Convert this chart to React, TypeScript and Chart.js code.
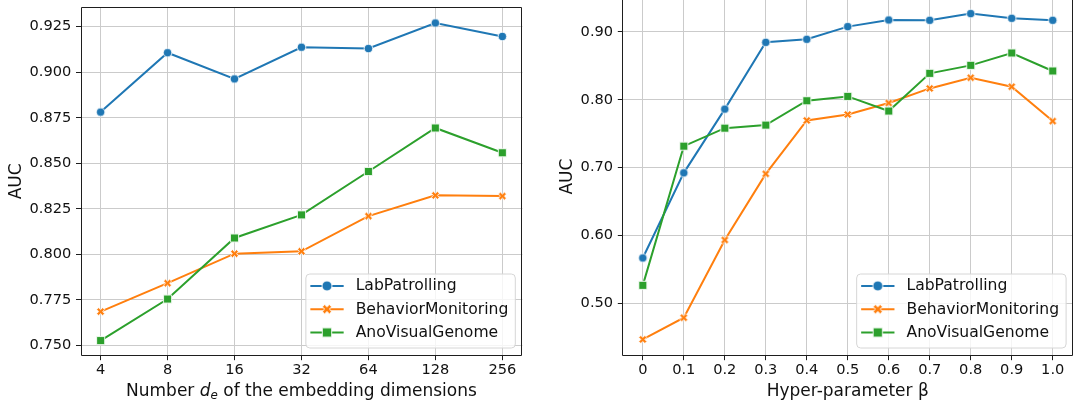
import React, { useEffect, useRef } from "react";
import { Chart, registerables } from "chart.js";

Chart.register(...registerables);

// ---- data: embedding dimension sweep ----
const dimLabels = ["4", "8", "16", "32", "64", "128", "256"];
const dimLab = [0.8781, 0.9107, 0.8963, 0.9137, 0.913, 0.927, 0.9196];
const dimBehavior = [0.7686, 0.7842, 0.8004, 0.8017, 0.821, 0.8324, 0.832];
const dimAno = [0.7527, 0.7755, 0.809, 0.8217, 0.8455, 0.8694, 0.8558];
const dimYTicks = [0.75, 0.775, 0.8, 0.825, 0.85, 0.875, 0.9, 0.925];

// ---- data: beta sweep ----
const betaValues = [0, 0.1, 0.2, 0.3, 0.4, 0.5, 0.6, 0.7, 0.8, 0.9, 1.0];
const betaLabels = ["0", "0.1", "0.2", "0.3", "0.4", "0.5", "0.6", "0.7", "0.8", "0.9", "1.0"];
const betaLab = [0.5665, 0.6921, 0.7862, 0.8847, 0.8892, 0.9079, 0.9177, 0.9172, 0.9271, 0.9202, 0.9172];
const betaBehavior = [0.4463, 0.4783, 0.5931, 0.6906, 0.7695, 0.7783, 0.7951, 0.8167, 0.8325, 0.8192, 0.7685];
const betaAno = [0.5261, 0.7315, 0.7581, 0.7626, 0.7985, 0.8049, 0.7833, 0.8389, 0.8507, 0.869, 0.8424];
const betaYTicks = [0.5, 0.6, 0.7, 0.8, 0.9];

const seriesNames = ["LabPatrolling", "BehaviorMonitoring", "AnoVisualGenome"];
const seriesColors = ["#1f77b4", "#ff7f0e", "#2ca02c"];
const seriesMarkers: Array<"circle" | "x" | "square"> = ["circle", "x", "square"];

const FONT = '"DejaVu Sans", "Noto Sans", sans-serif';
const TEXT = "#111111";
const GRID = "#cbcbcb";
const SPINE = "#1e1e1e";

function makeMarker(kind: "circle" | "x" | "square", color: string, size: number): HTMLCanvasElement {
  const dim = Math.ceil(size) + 4;
  const c = document.createElement("canvas");
  c.width = dim;
  c.height = dim;
  const g = c.getContext("2d")!;
  const cx = dim / 2;
  const cy = dim / 2;
  const h = size / 2;
  g.beginPath();
  if (kind === "circle") {
    g.arc(cx, cy, h, 0, Math.PI * 2);
  } else if (kind === "square") {
    g.rect(cx - h, cy - h, size, size);
  } else {
    const a = h / 3;
    const pts = [
      [-a, -h], [a, -h], [a, -a], [h, -a], [h, a], [a, a],
      [a, h], [-a, h], [-a, a], [-h, a], [-h, -a], [-a, -a],
    ];
    pts.forEach(([x, y], i) => {
      const rx = (x - y) / Math.SQRT2;
      const ry = (x + y) / Math.SQRT2;
      if (i === 0) g.moveTo(cx + rx, cy + ry);
      else g.lineTo(cx + rx, cy + ry);
    });
    g.closePath();
  }
  g.fillStyle = color;
  g.fill();
  g.strokeStyle = "#ffffff";
  g.lineWidth = 0.9;
  g.stroke();
  return c;
}

const markerSize = { circle: 8.6, x: 8.6, square: 8.2 };
const legendMarkerSize = { circle: 10, x: 10, square: 9.4 };

function buildDatasets(xs: number[], series: number[][]) {
  return series.map((vals, i) => ({
    label: seriesNames[i],
    data: vals.map((v, j) => ({ x: xs[j], y: v })),
    borderColor: seriesColors[i],
    backgroundColor: seriesColors[i],
    borderWidth: 2,
    tension: 0,
    pointStyle: makeMarker(seriesMarkers[i], seriesColors[i], markerSize[seriesMarkers[i]]),
    pointRadius: 5,
    order: 2 - i,
  }));
}

function drawSpines(ctx: CanvasRenderingContext2D, a: any) {
  ctx.save();
  ctx.strokeStyle = SPINE;
  ctx.lineWidth = 1;
  const l = Math.round(a.left) + 0.5;
  const r = Math.round(a.right) - 0.5;
  const t = Math.round(a.top) + 0.5;
  const b = Math.round(a.bottom) - 0.5;
  ctx.beginPath();
  ctx.rect(l, t, r - l, b - t);
  ctx.stroke();
  ctx.restore();
}

function drawLegend(ctx: CanvasRenderingContext2D, a: any) {
  ctx.save();
  ctx.font = `15.6px ${FONT}`;
  const maxW = Math.max(...seriesNames.map((n) => ctx.measureText(n).width));
  const w = 50.3 + maxW + 6.5;
  const hgt = 74;
  const right = a.right - 7.6;
  const bottom = a.bottom - 8.2;
  const left = right - w;
  const top = bottom - hgt;
  ctx.beginPath();
  ctx.roundRect(left + 0.5, top + 0.5, w, hgt, 4);
  ctx.fillStyle = "rgba(255,255,255,0.8)";
  ctx.fill();
  ctx.strokeStyle = "#d6d6d6";
  ctx.lineWidth = 1;
  ctx.stroke();
  seriesNames.forEach((name, i) => {
    const y = top + 12.4 + i * 23.3;
    ctx.beginPath();
    ctx.moveTo(left + 5, y);
    ctx.lineTo(left + 38.3, y);
    ctx.strokeStyle = seriesColors[i];
    ctx.lineWidth = 2;
    ctx.stroke();
    const m = makeMarker(seriesMarkers[i], seriesColors[i], legendMarkerSize[seriesMarkers[i]]);
    ctx.drawImage(m, left + 21.6 - m.width / 2, y - m.height / 2);
    ctx.fillStyle = TEXT;
    ctx.textBaseline = "middle";
    ctx.textAlign = "left";
    ctx.fillText(name, left + 50.3, y + 0.5);
  });
  ctx.restore();
}

function drawYTitle(ctx: CanvasRenderingContext2D, a: any, offset: number) {
  ctx.save();
  ctx.font = `17px ${FONT}`;
  ctx.fillStyle = TEXT;
  ctx.translate(a.left - offset, (a.top + a.bottom) / 2);
  ctx.rotate(-Math.PI / 2);
  ctx.textAlign = "center";
  ctx.textBaseline = "alphabetic";
  ctx.fillText("AUC", 0, 0);
  ctx.restore();
}

type Part = { text: string; font: string; dy: number };

function drawXTitle(ctx: CanvasRenderingContext2D, a: any, parts: Part[]) {
  ctx.save();
  ctx.fillStyle = TEXT;
  ctx.textBaseline = "alphabetic";
  ctx.textAlign = "left";
  const widths = parts.map((p) => {
    ctx.font = p.font;
    return ctx.measureText(p.text).width;
  });
  const total = widths.reduce((s, v) => s + v, 0);
  let x = (a.left + a.right) / 2 - total / 2;
  const y = a.bottom + 40;
  parts.forEach((p, i) => {
    ctx.font = p.font;
    ctx.fillText(p.text, x, y + p.dy);
    x += widths[i];
  });
  ctx.restore();
}

function makeScale(
  axis: "x" | "y",
  min: number,
  max: number,
  tickValues: number[],
  tickLabels: string[],
  thickness: number,
  padding: number
) {
  return {
    type: "linear" as const,
    min,
    max,
    afterBuildTicks: (s: any) => {
      s.ticks = tickValues.map((v) => ({ value: v }));
    },
    afterFit: (s: any) => {
      if (axis === "y") {
        s.width = thickness;
        s.paddingTop = 0;
        s.paddingBottom = 0;
      } else {
        s.height = thickness;
        s.paddingLeft = 0;
        s.paddingRight = 0;
      }
    },
    ticks: {
      autoSkip: false,
      maxRotation: 0,
      minRotation: 0,
      padding,
      color: TEXT,
      font: { family: FONT, size: 14.6 },
      callback: (_v: any, i: number) => tickLabels[i],
    },
    grid: {
      color: GRID,
      lineWidth: 1,
      drawTicks: true,
      tickLength: 4.5,
      tickColor: SPINE,
      tickWidth: 1,
    },
    border: { display: false },
  };
}

function makeChart(
  canvas: HTMLCanvasElement,
  datasets: any[],
  scales: any,
  padding: any,
  decorate: (ctx: CanvasRenderingContext2D, a: any) => void
) {
  return new Chart(canvas, {
    type: "line",
    data: { datasets },
    options: {
      responsive: false,
      maintainAspectRatio: false,
      animation: false,
      events: [],
      layout: { padding },
      plugins: { legend: { display: false }, tooltip: { enabled: false } },
      scales,
    },
    plugins: [
      {
        id: "decor",
        afterDraw(chart: any) {
          decorate(chart.ctx, chart.chartArea);
        },
      },
    ],
  });
}

export default function App() {
  const leftRef = useRef<HTMLCanvasElement>(null);
  const rightRef = useRef<HTMLCanvasElement>(null);

  useEffect(() => {
    const dimIdx = dimLabels.map((_, i) => i);
    const left = makeChart(
      leftRef.current!,
      buildDatasets(dimIdx, [dimLab, dimBehavior, dimAno]),
      {
        x: makeScale("x", -0.3, dimLabels.length - 0.7, dimIdx, dimLabels, 50.3, 1),
        y: makeScale("y", 0.74439, 0.93578, dimYTicks, dimYTicks.map((v) => v.toFixed(3)), 80.5, 4.7),
      },
      { top: 4.5, right: 17.6, left: 0, bottom: 0 },
      (ctx, a) => {
        drawSpines(ctx, a);
        drawLegend(ctx, a);
        drawYTitle(ctx, a, 59.4);
        drawXTitle(ctx, a, [
          { text: "Number ", font: `17px ${FONT}`, dy: 0 },
          { text: "d", font: `italic 17px ${FONT}`, dy: 0 },
          { text: "e", font: `italic 11.9px ${FONT}`, dy: 3.6 },
          { text: " of the embedding dimensions", font: `17px ${FONT}`, dy: 0 },
        ]);
      }
    );

    const right = makeChart(
      rightRef.current!,
      buildDatasets(betaValues, [betaLab, betaBehavior, betaAno]),
      {
        x: makeScale("x", -0.05, 1.05, betaValues, betaLabels, 50.3, 1),
        y: makeScale("y", 0.4223, 0.951, betaYTicks, betaYTicks.map((v) => v.toFixed(2)), 77.3, 4.7),
      },
      { top: 7.4, right: 11.8, left: 0, bottom: 0 },
      (ctx, a) => {
        drawSpines(ctx, a);
        drawLegend(ctx, a);
        drawYTitle(ctx, a, 50.1);
        drawXTitle(ctx, a, [{ text: "Hyper-parameter β", font: `17px ${FONT}`, dy: 0 }]);
      }
    );

    return () => {
      left.destroy();
      right.destroy();
    };
  }, []);

  return (
    <div
      style={{
        position: "fixed",
        left: 0,
        top: 0,
        width: 1073,
        height: 406,
        overflow: "hidden",
        background: "#ffffff",
      }}
    >
      <canvas
        ref={leftRef}
        width={540}
        height={406}
        style={{ position: "absolute", left: 0, top: 0, width: 540, height: 406 }}
      />
      <canvas
        ref={rightRef}
        width={540}
        height={416}
        style={{ position: "absolute", left: 545, top: -10, width: 540, height: 416 }}
      />
    </div>
  );
}
